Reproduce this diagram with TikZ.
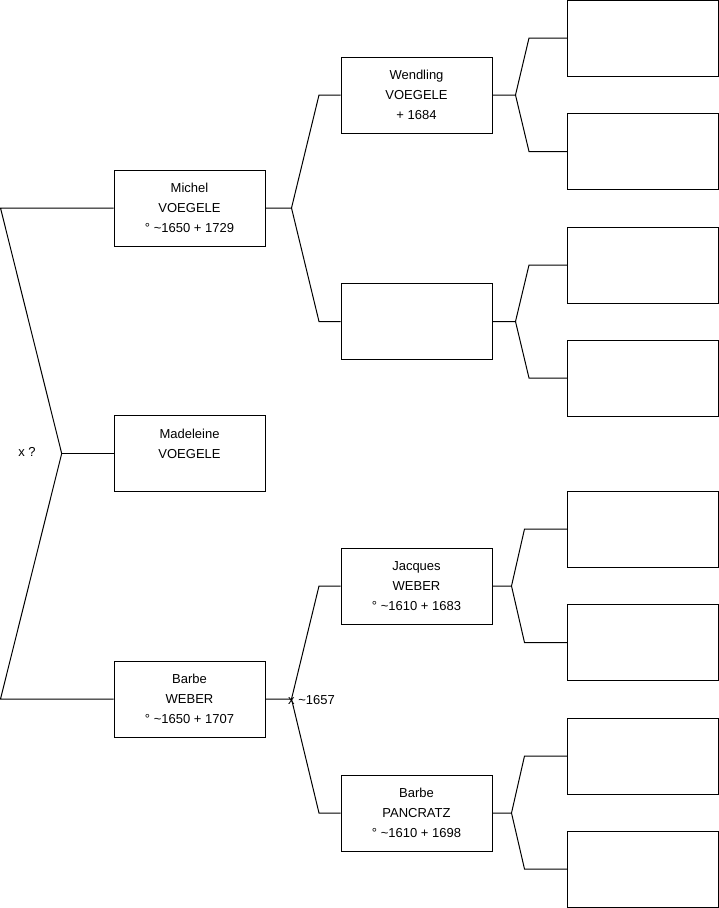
\documentclass[tikz,border=0pt]{standalone}
\usepackage{fontspec}
\setmainfont{Liberation Sans}
\tikzset{
  person/.style={draw, line width=1pt, align=center, minimum width=151pt, minimum height=76pt, inner sep=0pt, font=\fontsize{13}{20}\selectfont},
  link/.style={line width=1pt},
  wedlabel/.style={inner sep=0pt, font=\fontsize{13}{20}\selectfont}
}
\newcommand{\ca}{\textasciitilde}

\begin{document}
\begin{tikzpicture}[x=1pt, y=-1pt]
\useasboundingbox (0,0) rectangle (719,908);
% generation 1 and 2
\node[person] (madeleine) at (189.5,453.5) {Madeleine\\VOEGELE\\\vphantom{1}};
\node[person] (michel) at (189.5,208) {Michel\\VOEGELE\\° \ca1650 + 1729};
\node[person] (barbe) at (189.5,699) {Barbe\\WEBER\\° \ca1650 + 1707};
% generation 3
\node[person] (wendling) at (416.5,95) {Wendling\\VOEGELE\\+ 1684};
\node[person] (unknown) at (416.5,321.5) {};
\node[person] (jacques) at (416.5,586) {Jacques\\WEBER\\° \ca1610 + 1683};
\node[person] (pancratz) at (416.5,813) {Barbe\\PANCRATZ\\° \ca1610 + 1698};
% generation 4
\foreach \n/\y in {1/38, 2/151.5, 3/265, 4/378, 5/529, 6/642.5, 7/756, 8/869}
  \node[person] (g\n) at (643,\y) {};

% siblings
\coordinate (sib) at (61.7,453.5);
\coordinate (sibtop) at (0.5,208);
\coordinate (sibbot) at (0.5,699);
\draw[link] (michel.west) -- (sibtop) -- (sib) -- (sibbot) -- (barbe.west);
\draw[link] (sib) -- (madeleine.west);
\node[wedlabel] (wed0) at (27,452) {x ?};

% parents
\foreach \pn/\ua/\la/\fx/\cx in {michel/wendling/unknown/26/21.5, barbe/jacques/pancratz/26/21.5,
    wendling/g1/g2/23/38, unknown/g3/g4/23/38, jacques/g5/g6/19/42.5, pancratz/g7/g8/19/42.5} {
  \draw[link] (\pn.east) -- ++(\fx,0) coordinate (f\pn) -- ([xshift=-\cx pt]\ua.west) -- (\ua.west);
  \draw[link] (f\pn) -- ([xshift=-\cx pt]\la.west) -- (\la.west);
}
\node[wedlabel, anchor=west] (wed1) at ([xshift=-3.5pt,yshift=-1pt]fbarbe) {x \ca1657};
\end{tikzpicture}
\end{document}
